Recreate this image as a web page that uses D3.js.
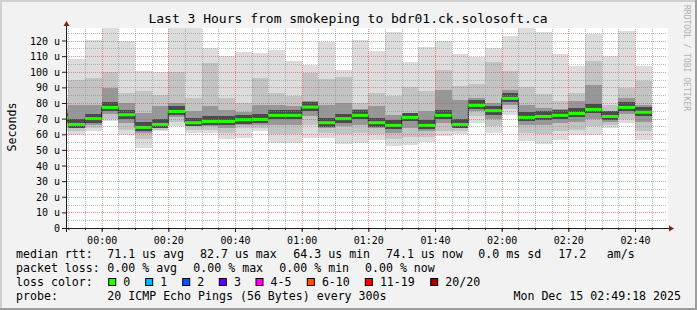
<!DOCTYPE html>
<html>
<head>
<meta charset="utf-8">
<script src="https://cdn.jsdelivr.net/npm/d3@7"></script>
<style>
  body { margin: 0; background: #f2f2f2; }
  svg { display: block; }
  text { font-family: "DejaVu Sans Mono", monospace; fill: #000; }
</style>
</head>
<body>
<div id="chart"></div>
<script>
// ── Smokeping: Last 3 Hours to bdr01.ck.solosoft.ca ─────────────
// one entry per 5 minute step (start time of the step), values in microseconds
const times = ["23:45","23:50","23:55","00:00","00:05","00:10","00:15","00:20","00:25",
  "00:30","00:35","00:40","00:45","00:50","00:55","01:00","01:05","01:10","01:15",
  "01:20","01:25","01:30","01:35","01:40","01:45","01:50","01:55","02:00","02:05",
  "02:10","02:15","02:20","02:25","02:30","02:35","02:40"];
const smokeMax = [84, 108.3,120.1,128,119.4,100.2,99.6,128,128,115.2, 110.3,112.4,112,114.1,106.6,104.5,119,101.3,120.5,
  113.5,125.4,106,116,119.4,111.3,109.2,115.2,123.1, 128.4,125.4,111.3,103.4,124.3,109.8,126.3,103.4];
const smokeHi = [80, 94.9,96,100,86.4,87.4,85.3,99.6,83.2,105.6, 83.2,80,96,86.4,84.2,99.2,95.5,96.4,80,
  86.4,84.2,90.2,87.4,101.3,90.6,92.1,106,100.7, 90,86,81,86.4,107.1,78.9,89.6,93.8];
const smokeMid = [76, 79,79,89.6,80,73.6,77.8,80,74.6,77.8, 75.7,74,78.9,78.9,78,81,78.9,80,76,
  77.8,72.5,73.6,74.6,88.5,82.1,83.2,80,88.5, 78.9,76.8,76,81,91.7,75,83.2,78.9];
const median = [70.5, 66.3,70,77.2,72.5,64.4,66.3,74.6,67.4,68.2, 68.2,69.3,69.5,72.1,72.1,77.4,67.4,70,72.1,
  67.4,65.7,70.8,65.7,72.1,66.3,78.5,75.1,83, 70.8,71.4,72.1,73.3,75.9,71.4,77.2,74.1];
const smokeLoMid = [67, 64,66,73,67,61,64,71,65,65, 64,66,66,66,66,72,64,65,66,
  64,61,64,62,67,64,75,70,79, 66,66,67,68,70,68,73,68];
const smokeLo = [64, 62,64,70,63,57,63,68,63,63, 61,64,64,60,60,66,61,60,61,
  60,57,58,58,62,62,72,65,76, 61,60,62,63,65,66,70,62];
const smokeMin = [62, 59.7,61.8,68.2,59.7,51.4,61.8,65.5,60.8,60.8, 56.9,57.6,61.8,54.4,54.4,57.6,57.6,53.7,54.4,
  56.5,52.2,53.3,55,58.6,60.3,67,60.8,72.5, 55.4,53.7,56.5,59.7,59.7,64,67.2,56.5];

const lossLabels = ["0","1","2","3","4-5","6-10","11-19","20/20"];
const lossColors = ["#26ff00","#00b8ff","#0059ff","#5e00ff","#ff00ee","#ff5500","#ff0000","#a10000"];

const rttLegend  = [["median rtt:",16],["71.1 us avg",107.3],["82.7 us max",200],["64.3 us min",293.3],
                    ["74.1 us now",386],["0.0 ms sd",478.3],["17.2",558.3],["am/s",606.7]];
const lossLegend = [["packet loss:",16],["0.00 % avg",107.3],["0.00 % max",193.3],["0.00 % min",279.3],["0.00 % now",365]];
const lossBoxX   = [108.7,145.7,182.7,219.3,256,307.3,365.3,430.7];

const width = 697, height = 310;
const plot = { left: 67, right: 667, top: 28, bottom: 228 };

const toDate = s => {
    const [h, m] = s.split(":").map(Number);
    return new Date(Date.UTC(2025, 11, h >= 12 ? 14 : 15, h, m));
};
const data = times.map((t, i) => ({
    t0: toDate(t), t1: new Date(+toDate(t) + 300000),
    max: smokeMax[i], hi: smokeHi[i], mid: smokeMid[i], med: median[i],
    lomid: smokeLoMid[i], lo: smokeLo[i], min: smokeMin[i]
}));

const svg = d3.select("#chart").append("svg")
    .attr("width", width).attr("height", height);

// frame (background + shades)
svg.append("rect").attr("width", width).attr("height", height).attr("fill", "#f2f2f2");
svg.append("path").attr("d", `M0,0H${width}V2H2V${height}H0Z`).attr("fill", "#cfcfcf");
svg.append("path").attr("d", `M${width},${height}H0V${height-2}H${width-2}V0H${width}Z`).attr("fill", "#9e9e9e");

const x = d3.scaleUtc()
    .domain([new Date(Date.UTC(2025,11,14,23,49,36)), new Date(Date.UTC(2025,11,15,2,49,36))])
    .range([plot.left, plot.right]);
const y = d3.scaleLinear().domain([0, 128]).range([plot.bottom, plot.top]);

// canvas
svg.append("rect").attr("x", plot.left).attr("y", plot.top)
    .attr("width", plot.right - plot.left + 1).attr("height", plot.bottom - plot.top)
    .attr("fill", "#fff");

svg.append("clipPath").attr("id", "clip").append("rect")
    .attr("x", plot.left).attr("y", plot.top)
    .attr("width", plot.right - plot.left).attr("height", plot.bottom - plot.top);

const g = svg.append("g").attr("clip-path", "url(#clip)");

// smoke: outer band lightest, inner darker
const layers = [["max","min","#dcdcdc"],["hi","lo","#c3c3c3"],["mid","lomid","#979797"]];
layers.forEach(([top, bot, col]) => {
    g.selectAll(null).data(data).join("rect")
        .attr("x", d => x(d.t0)).attr("width", d => x(d.t1) - x(d.t0))
        .attr("y", d => y(d[top])).attr("height", d => y(d[bot]) - y(d[top]))
        .attr("fill", col).attr("shape-rendering", "crispEdges");
});
// dark core near the median
g.selectAll(null).data(data).join("rect")
    .attr("x", d => x(d.t0)).attr("width", d => x(d.t1) - x(d.t0))
    .attr("y", d => Math.max(y(d.med) - 5, y(d.mid)))
    .attr("height", d => Math.min(y(d.med) + 4, y(d.lomid)) - Math.max(y(d.med) - 5, y(d.mid)))
    .attr("fill", "#4a4a4a").attr("shape-rendering", "crispEdges");

// grid (drawn over the smoke)
const innerW = plot.right - plot.left, innerH = plot.bottom - plot.top;
const gridStyle = (sel, col) => {
    sel.select(".domain").remove();
    sel.selectAll("line").attr("stroke", col).attr("stroke-dasharray", "1,1")
        .attr("shape-rendering", "crispEdges");
};
const yMinor = d3.range(5, 128, 5).filter(v => v % 10);
const yMajor = d3.range(10, 128, 10);
svg.append("g").attr("transform", `translate(${plot.left},0)`)
    .call(d3.axisLeft(y).tickValues(yMinor).tickSize(-innerW).tickFormat(""))
    .call(gridStyle, "rgba(143,143,143,0.6)");
svg.append("g").attr("transform", `translate(0,${plot.bottom})`)
    .call(d3.axisBottom(x).ticks(d3.utcMinute.every(5)).tickSize(-innerH).tickFormat(""))
    .call(sel => sel.selectAll(".tick").filter(d => d.getUTCMinutes() % 20 === 0).remove())
    .call(gridStyle, "rgba(143,143,143,0.6)");
svg.append("g").attr("transform", `translate(${plot.left},0)`)
    .call(d3.axisLeft(y).tickValues(yMajor).tickSize(-innerW).tickFormat(""))
    .call(gridStyle, "rgba(222,79,79,0.6)");
svg.append("g").attr("transform", `translate(0,${plot.bottom})`)
    .call(d3.axisBottom(x).ticks(d3.utcMinute.every(20)).tickSize(-innerH).tickFormat(""))
    .call(gridStyle, "rgba(222,79,79,0.6)");

// median: dark step line, then loss-coloured segments
const step = [];
data.forEach(d => { step.push([x(d.t0), y(d.med)], [x(d.t1), y(d.med)]); });
g.append("path").attr("d", d3.line()(step))
    .attr("fill", "none").attr("stroke", "#202020").attr("stroke-width", 1);
g.selectAll(null).data(data).join("line")
    .attr("x1", d => x(d.t0)).attr("x2", d => x(d.t1))
    .attr("y1", d => y(d.med)).attr("y2", d => y(d.med))
    .attr("stroke", lossColors[0]).attr("stroke-width", 3);

// axes
const yAxis = svg.append("g").attr("transform", `translate(${plot.left},0)`)
    .call(d3.axisLeft(y).tickValues(d3.range(0, 121, 10)).tickSize(5).tickPadding(2)
        .tickFormat(d => d === 0 ? "0" : `${d} u`));
yAxis.select(".domain").remove();
yAxis.selectAll("line").attr("stroke", "#1f1f1f");
yAxis.selectAll("text").style("font-size", "10px").attr("dy", "0.36em");

const xAxis = svg.append("g").attr("transform", `translate(0,${plot.bottom})`)
    .call(d3.axisBottom(x).ticks(d3.utcMinute.every(20)).tickSize(4).tickPadding(5)
        .tickFormat(d3.utcFormat("%H:%M")));
xAxis.select(".domain").remove();
xAxis.selectAll("line").attr("stroke", "#1f1f1f");
xAxis.selectAll("text").style("font-size", "10px");
svg.append("g").attr("transform", `translate(0,${plot.bottom})`)
    .call(d3.axisBottom(x).ticks(d3.utcMinute.every(5)).tickSize(2).tickFormat(""))
    .call(sel => { sel.select(".domain").remove(); sel.selectAll("line").attr("stroke", "#1f1f1f"); });

svg.append("line").attr("x1", 62).attr("x2", 669).attr("y1", plot.bottom + 0.5).attr("y2", plot.bottom + 0.5)
    .attr("stroke", "#1f1f1f");
svg.append("line").attr("x1", plot.left - 0.5).attr("x2", plot.left - 0.5).attr("y1", plot.bottom + 4).attr("y2", 24)
    .attr("stroke", "#1f1f1f");
svg.append("path").attr("d", `M669,${plot.bottom - 2.5}L674,${plot.bottom + 0.5}L669,${plot.bottom + 3.5}Z`).attr("fill", "#801f1f");
svg.append("path").attr("d", `M${plot.left - 3.5},26L${plot.left - 0.5},21L${plot.left + 2.5},26Z`).attr("fill", "#801f1f");

// title, labels, watermark
svg.append("text").attr("x", 348).attr("y", 23.3).attr("text-anchor", "middle")
    .style("font-size", "13px").text("Last 3 Hours from smokeping to bdr01.ck.solosoft.ca");
svg.append("text").attr("transform", "translate(15.5,127) rotate(-90)").attr("text-anchor", "middle")
    .style("font-size", "11.6px").text("Seconds");
svg.append("text").attr("transform", "translate(683.5,5) rotate(90)")
    .style("font-size", "8px").style("fill", "#b0b0b0").text("RRDTOOL / TOBI OETIKER");

// legend
const legend = svg.append("g").style("font-size", "11.6px").attr("xml:space", "preserve");
rttLegend.forEach(([s, lx]) => legend.append("text").attr("x", lx).attr("y", 257.5).text(s));
lossLegend.forEach(([s, lx]) => legend.append("text").attr("x", lx).attr("y", 271.7).text(s));
legend.append("text").attr("x", 16).attr("y", 285.8).text("loss color:");
lossLabels.forEach((s, i) => {
    legend.append("rect").attr("x", lossBoxX[i]).attr("y", 278.5).attr("width", 7).attr("height", 7)
        .attr("fill", lossColors[i]).attr("stroke", "#000").attr("stroke-width", 1);
    legend.append("text").attr("x", lossBoxX[i] + 14.6).attr("y", 285.8).text(s);
});
legend.append("text").attr("x", 16).attr("y", 300).text("probe:");
legend.append("text").attr("x", 107.3).attr("y", 300).text("20 ICMP Echo Pings (56 Bytes) every 300s");
legend.append("text").attr("x", 681).attr("y", 300).attr("text-anchor", "end").text("Mon Dec 15 02:49:18 2025");
</script>
</body>
</html>
